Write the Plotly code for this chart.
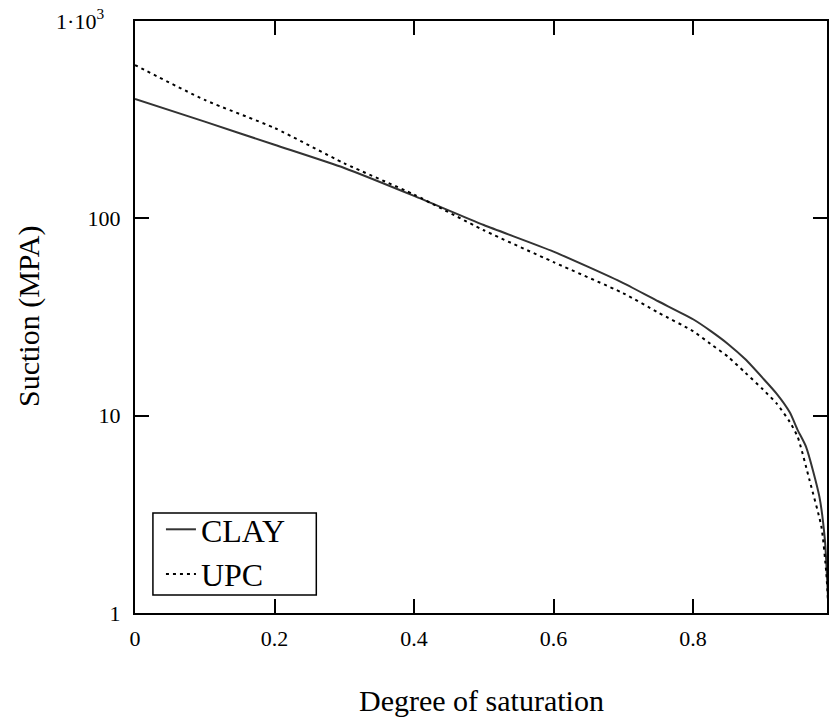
import plotly.graph_objects as go

# Degree of saturation (x) and suction in MPa (y)
clay_sr = [0.0, 0.1, 0.2, 0.3, 0.4, 0.5, 0.6, 0.7, 0.75, 0.8, 0.825, 0.85, 0.875, 0.9, 0.92, 0.9386, 0.95, 0.962, 0.981, 0.989, 0.993, 0.9943]
clay_suction = [403, 309, 236, 180, 130, 92.5, 67.8, 47, 38.0, 30.8, 26.9, 23.1, 19.3, 15.5, 12.9, 10.4, 8.45, 6.95, 3.9, 2.34, 1.3, 1.0]

upc_sr = [0.0, 0.1, 0.2, 0.3, 0.4, 0.5, 0.6, 0.7, 0.75, 0.8, 0.825, 0.85, 0.875, 0.9, 0.92, 0.9386, 0.95, 0.967, 0.984, 0.991, 0.9943]
upc_suction = [598, 398, 287, 190, 132, 87, 60, 41.7, 33.3, 26.8, 23.1, 19.9, 16.5, 13.6, 11.5, 9.3, 7.8, 4.7, 2.73, 1.59, 1.0]

x_ticks = [0, 0.2, 0.4, 0.6, 0.8]
x_ticktext = ["0", "0.2", "0.4", "0.6", "0.8"]
y_ticks = [1, 10, 100, 1000]
y_ticktext = ["1", "10", "100", "1\u00b710<sup>3</sup>\u00a0\u00a0\u00a0"]

FONT = "Times New Roman, Liberation Serif, DejaVu Serif, serif"

fig = go.Figure()
fig.add_trace(go.Scatter(x=clay_sr, y=clay_suction, mode="lines", name="CLAY",
                         line=dict(color="#333333", width=2, shape="spline", smoothing=0.6)))
fig.add_trace(go.Scatter(x=upc_sr, y=upc_suction, mode="lines", name="UPC",
                         line=dict(color="black", width=2, dash="3px,4px",
                                   shape="spline", smoothing=0.6)))

fig.update_layout(
    width=830, height=717,
    margin=dict(l=135, r=1, t=21, b=104),
    paper_bgcolor="white", plot_bgcolor="white",
    font=dict(family=FONT, color="black", size=22),
    showlegend=True,
    legend=dict(x=0.0375, y=0.1875, xanchor="left", yanchor="top",
                bgcolor="rgba(0,0,0,0)", borderwidth=0,
                font=dict(family=FONT, size=32, color="black"),
                tracegroupgap=0),
    shapes=[
        dict(type="rect", xref="paper", yref="paper",
             x0=0.0259, x1=0.262, y0=0.0304, y1=0.169,
             line=dict(color="black", width=1.5), fillcolor="white", layer="above"),
    ],
    annotations=[
        dict(text="Degree of saturation", x=0.5, y=0, xref="paper", yref="paper",
             xanchor="center", yanchor="middle", yshift=-87, showarrow=False,
             font=dict(family=FONT, size=30, color="black")),
        dict(text="Suction (MPA)", x=0, y=0.5, xref="paper", yref="paper",
             xanchor="center", yanchor="middle", xshift=-106, textangle=-90,
             showarrow=False, font=dict(family=FONT, size=30, color="black")),
    ],
)

fig.update_xaxes(range=[0, 0.992], tickvals=x_ticks, ticktext=x_ticktext,
                 ticks="inside", ticklen=14, tickwidth=2, tickcolor="black",
                 showline=True, linecolor="black", linewidth=2, mirror="ticks",
                 showgrid=False, zeroline=False, ticklabelstandoff=5,
                 tickfont=dict(family=FONT, size=22, color="black"))
fig.update_yaxes(type="log", range=[0, 3], tickvals=y_ticks, ticktext=y_ticktext,
                 ticks="inside", ticklen=14, tickwidth=2, tickcolor="black",
                 showline=True, linecolor="black", linewidth=2, mirror="ticks",
                 showgrid=False, zeroline=False, ticklabelstandoff=8,
                 tickfont=dict(family=FONT, size=22, color="black"))

fig.write_html("out.html")
